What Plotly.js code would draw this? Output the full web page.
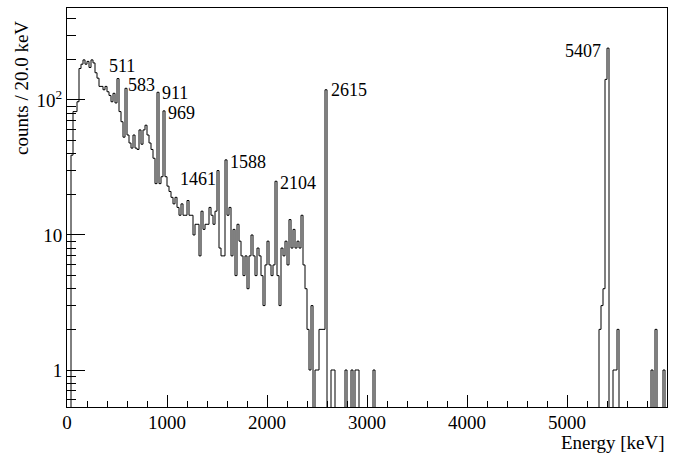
<!DOCTYPE html>
<html>
<head>
<meta charset="utf-8">
<script src="https://cdn.plot.ly/plotly-3.0.1.min.js"></script>
<style>html,body{margin:0;padding:0;background:#fff;}#chart{width:682px;height:455px;}</style>
</head>
<body>
<div id="chart"></div>
<script>
// ---- data ----
var binWidth = 20;      // keV per bin
var energyMin = 0;      // keV
var counts = [
  0,0,39,82,82,97,171,184,198,184,193,174,198,188,159,145,126,126,119,126,
  115,108,97,112,95,144,82,69,53,122,55,48,44,55,44,43,60,47,60,65,
  55,48,43,37,24,114,24,27,83,27,23,21,19,17,19,16,14,17,14,14,
  18,14,14,10,12,12,7,15,11,12,12,16,14,12,15,30,8,7,7,36,
  14,16,7,11,5,12,9,7,5,7,4,7,10,7,5,8,7,5,3,6,
  9,6,5,6,25,5,3,8,7,9,6,13,8,11,8,9,8,14,6,4,
  2,1,3,0,1,1,2,2,2,119,0,0,1,1,0,0,0,0,0,1,
  0,0,1,0,1,1,0,0,0,0,0,0,0,1,0,0,0,0,0,0,
  0,0,0,0,0,0,0,0,0,0,0,0,0,0,0,0,0,0,0,0,
  0,0,0,0,0,0,0,0,0,0,0,0,0,0,0,0,0,0,0,0,
  0,0,0,0,0,0,0,0,0,0,0,0,0,0,0,0,0,0,0,0,
  0,0,0,0,0,0,0,0,0,0,0,0,0,0,0,0,0,0,0,0,
  0,0,0,0,0,0,0,0,0,0,0,0,0,0,0,0,0,0,0,0,
  0,0,0,0,0,0,2,3,4,142,242,0,0,1,1,2,0,0,0,0,
  0,0,0,0,0,0,0,0,0,0,0,0,1,0,2,0,0,0,1,0
];
var peakLabels = ['511','583','911','969','1461','1588','2104','2615','5407'];
var yTickVals = [1, 10, 100];
var yTickText = ['1', '10', '10<sup>2</sup>'];
var yMinorVals = [0.6,0.7,0.8,0.9,2,3,4,5,6,7,8,9,20,30,40,50,60,70,80,90,200,300,400];
var xTitle = 'Energy [keV]';
var yTitle = 'counts / 20.0 keV';

var FONT = 'Liberation Serif, Times New Roman, Times, serif';

// ---- build step outline from bin edges ----
var xs = [], ys = [];
for (var i = 0; i < counts.length; i++) {
  xs.push(energyMin + i * binWidth);
  ys.push(counts[i] > 0 ? counts[i] : 1e-2);   // empty bins drop below the frame (log axis)
}
xs.push(energyMin + counts.length * binWidth);
ys.push(ys[ys.length - 1]);

var trace = {
  x: xs, y: ys, type: 'scatter', mode: 'lines',
  line: {shape: 'hv', color: '#000', width: 1, simplify: false},
  hoverinfo: 'skip'
};

// label placement (keV, counts)
var labelPos = [
  [395, 178], [590, 128], [925, 112], [988, 80], [1108, 26.2],
  [1608, 35], [2108, 24.3], [2618, 119], [4958, 229]
];
var annotations = peakLabels.map(function (t, k) {
  return {text: t, x: labelPos[k][0], y: Math.log10(labelPos[k][1]), xref: 'x', yref: 'y',
          xanchor: 'left', yanchor: 'middle', showarrow: false,
          font: {family: FONT, size: 18, color: '#000'}};
});
annotations.push({text: xTitle, xref: 'paper', yref: 'paper', x: 1.0, y: -0.088,
  xanchor: 'right', yanchor: 'middle', showarrow: false, font: {family: FONT, size: 19, color: '#000'}});
annotations.push({text: yTitle, xref: 'paper', yref: 'paper', x: -0.077, y: 0.972,
  xanchor: 'center', yanchor: 'top', textangle: -90, showarrow: false, font: {family: FONT, size: 19, color: '#000'}});

var layout = {
  width: 682, height: 455,
  margin: {l: 67, r: 15, t: 8, b: 48, pad: 0},
  paper_bgcolor: '#fff', plot_bgcolor: '#fff',
  showlegend: false,
  font: {family: FONT, size: 19, color: '#000'},
  xaxis: {
    range: [0, 6000], tickmode: 'linear', tick0: 0, dtick: 1000,
    ticks: 'inside', ticklen: 12, tickwidth: 1, tickcolor: '#000',
    ticklabelstandoff: -2,
    minor: {tickmode: 'linear', tick0: 0, dtick: 200, ticks: 'inside', ticklen: 6, tickwidth: 1, tickcolor: '#000', showgrid: false},
    showline: true, linecolor: '#000', linewidth: 1, mirror: true,
    showgrid: false, zeroline: false, tickfont: {family: FONT, size: 19, color: '#000'}
  },
  yaxis: {
    type: 'log', range: [-0.274, 2.681],
    tickmode: 'array', tickvals: yTickVals, ticktext: yTickText,
    ticks: 'inside', ticklen: 18, tickwidth: 1, tickcolor: '#000',
    minor: {tickmode: 'array', tickvals: yMinorVals, ticks: 'inside', ticklen: 9, tickwidth: 1, tickcolor: '#000', showgrid: false},
    showline: true, linecolor: '#000', linewidth: 1, mirror: true,
    showgrid: false, zeroline: false, tickfont: {family: FONT, size: 19, color: '#000'}
  },
  annotations: annotations
};

Plotly.newPlot('chart', [trace], layout, {staticPlot: true, displayModeBar: false});
</script>
</body>
</html>
